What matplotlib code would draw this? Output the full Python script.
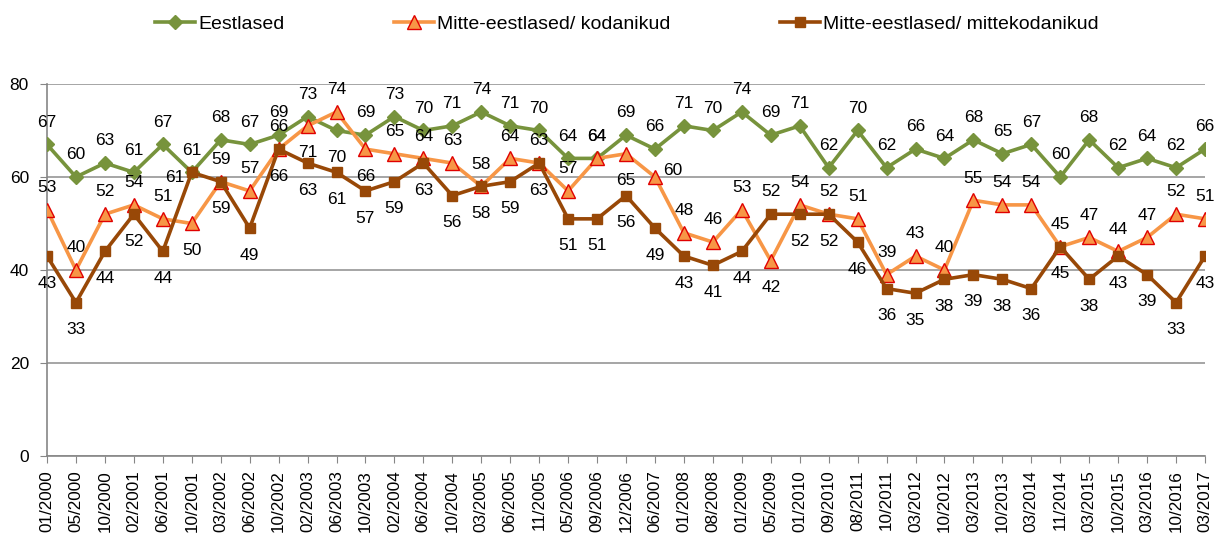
import matplotlib.pyplot as plt

plt.rcParams['font.family'] = ['Liberation Sans', 'DejaVu Sans']

# survey waves
periods = ["01/2000", "05/2000", "10/2000", "02/2001", "06/2001", "10/2001", "03/2002",
           "06/2002", "10/2002", "02/2003", "06/2003", "10/2003", "02/2004", "06/2004",
           "10/2004", "03/2005", "06/2005", "11/2005", "05/2006", "09/2006", "12/2006",
           "06/2007", "01/2008", "08/2008", "01/2009", "05/2009", "01/2010", "09/2010",
           "08/2011", "10/2011", "03/2012", "10/2012", "03/2013", "10/2013", "03/2014",
           "11/2014", "03/2015", "10/2015", "03/2016", "10/2016", "03/2017"]

eestlased = [67, 60, 63, 61, 67, 61, 68, 67, 69, 73, 70, 69, 73, 70, 71, 74, 71, 70, 64, 64,
             69, 66, 71, 70, 74, 69, 71, 62, 70, 62, 66, 64, 68, 65, 67, 60, 68, 62, 64, 62, 66]
kodanikud = [53, 40, 52, 54, 51, 50, 59, 57, 66, 71, 74, 66, 65, 64, 63, 58, 64, 63, 57, 64,
             65, 60, 48, 46, 53, 42, 54, 52, 51, 39, 43, 40, 55, 54, 54, 45, 47, 44, 47, 52, 51]
mittekodanikud = [43, 33, 44, 52, 44, 61, 59, 49, 66, 63, 61, 57, 59, 63, 56, 58, 59, 63, 51, 51,
                  56, 49, 43, 41, 44, 52, 52, 52, 46, 36, 35, 38, 39, 38, 36, 45, 38, 43, 39, 33, 43]

# where each data label sits: a=above, b=below, r=right, l=left
pos_green = ["a"] * 41
pos_green[10] = "b"
pos_orange = ["a"] * 41
for i in [5, 9, 11, 20, 25]:
    pos_orange[i] = "b"
pos_orange[21] = "r"
pos_brown = ["b"] * 41
pos_brown[5] = "l"
pos_brown[25] = "a"

offsets = {"a": (0, 16), "b": (0, -19.5), "r": (13, 5), "l": (-12, -4)}

fig = plt.figure(figsize=(12.17, 5.34), dpi=100)
ax = fig.add_axes([47 / 1217, 1 - 456 / 534, 1158 / 1217, 372 / 534])

x = list(range(len(periods)))
green = "#77933C"
orange = "#F79646"
brown = "#984807"

l1, = ax.plot(x, eestlased, color=green, lw=2.6, marker="D", ms=7, mfc=green, mec=green,
              label="Eestlased", zorder=3)
l2, = ax.plot(x, kodanikud, color=orange, lw=2.6, marker="^", ms=10, mfc=orange, mec="#E00000",
              mew=1.0, label="Mitte-eestlased/ kodanikud", zorder=4)
l3, = ax.plot(x, mittekodanikud, color=brown, lw=2.6, marker="s", ms=7, mfc=brown, mec=brown,
              label="Mitte-eestlased/ mittekodanikud", zorder=5)

for vals, pos in [(eestlased, pos_green), (kodanikud, pos_orange), (mittekodanikud, pos_brown)]:
    for i, v in enumerate(vals):
        ax.annotate(str(v), (i, v), xytext=offsets[pos[i]], textcoords="offset points",
                    ha="center", va="center", fontsize=12.5, color="black", zorder=6)

ax.set_xlim(0, 40)
ax.set_ylim(0, 80)
ax.set_yticks([0, 20, 40, 60, 80])
ax.set_xticks(x)
ax.set_xticklabels(periods, rotation=90, fontsize=12.3)
ax.tick_params(axis="y", labelsize=12.5, length=5, color="#868686", pad=8)
ax.tick_params(axis="x", length=5, color="#868686", pad=5)
ax.grid(axis="y", color="#969696", lw=1.2)
ax.set_axisbelow(True)
for s in ["top", "right"]:
    ax.spines[s].set_visible(False)
for s in ["left", "bottom"]:
    ax.spines[s].set_color("#868686")
    ax.spines[s].set_linewidth(1.2)

fig.legend(handles=[l1, l2, l3], loc="center", bbox_to_anchor=(0.515, 0.955), ncol=3,
           frameon=False, fontsize=14, handlelength=2.1, columnspacing=5.6, handletextpad=0.15)

plt.savefig("out.png")
